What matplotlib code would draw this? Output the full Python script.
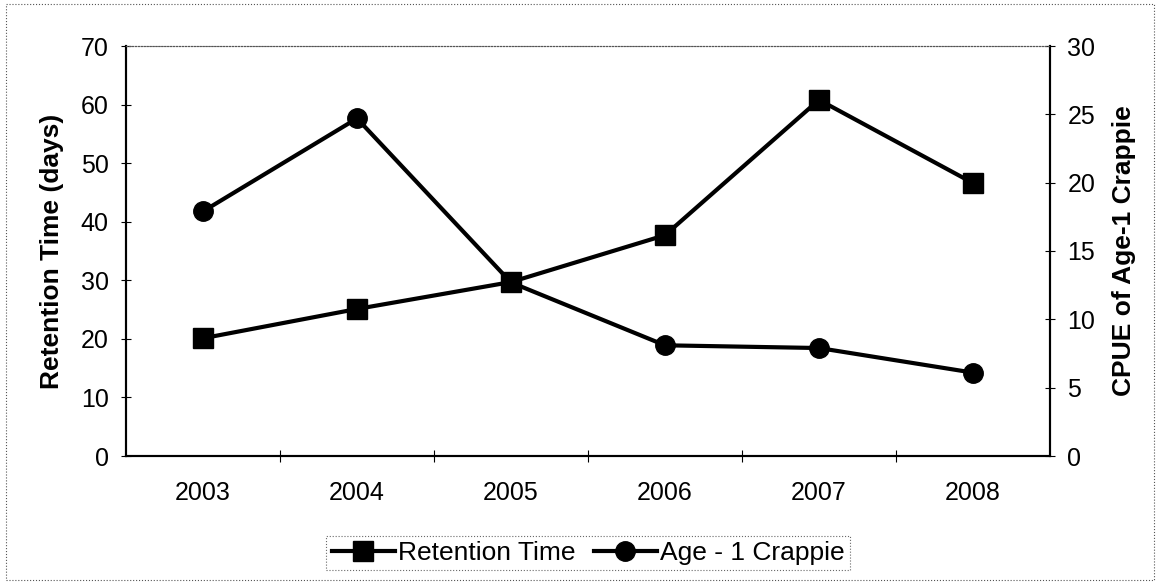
import matplotlib.pyplot as plt
from matplotlib.lines import Line2D
from matplotlib.patches import Rectangle

plt.rcParams['font.family'] = ['Liberation Sans', 'DejaVu Sans']

years = ['2003', '2004', '2005', '2006', '2007', '2008']
retention = [20.1, 25.1, 29.7, 37.7, 60.8, 46.6]
crappie = [17.9, 24.7, 12.7, 8.1, 7.9, 6.1]

fig = plt.figure(figsize=(11.6, 5.82), dpi=100)
ax = fig.add_axes([126 / 1160, 1 - 456 / 582, (1050 - 126) / 1160, (456 - 46) / 582])
ax2 = ax.twinx()

x = range(len(years))
ax.plot(x, retention, color='black', lw=3, marker='s', ms=14, zorder=3)
ax2.plot(x, crappie, color='black', lw=3, marker='o', ms=14, zorder=2)

ax.set_xlim(-0.5, 5.5)
ax.set_ylim(0, 70)
ax2.set_ylim(0, 30)
ax.set_yticks(range(0, 71, 10))
ax2.set_yticks(range(0, 31, 5))

# category ticks between groups, labels at centers
ax.set_xticks([i + 0.5 for i in range(5)])
ax.set_xticklabels([])
ax.set_xticks(list(x), minor=True)
ax.set_xticklabels(years, minor=True)
ax.tick_params(axis='x', which='minor', length=0, pad=18, labelsize=18)
ax.tick_params(axis='x', which='major', direction='inout', length=8, width=0.8)
ax.tick_params(axis='y', direction='inout', length=7, width=0.8, labelsize=18, pad=9)
ax2.tick_params(axis='y', direction='inout', length=7, width=0.8, labelsize=18, pad=9)

for a in (ax, ax2):
    a.spines['top'].set_linestyle(':')
    a.spines['top'].set_linewidth(0.8)
    a.spines['top'].set_color('#555555')
    a.spines['left'].set_linewidth(1.5)
    a.spines['right'].set_linewidth(1.5)
    a.spines['bottom'].set_linewidth(1.5)

ax.set_ylabel('Retention Time (days)', fontsize=19, fontweight='bold', labelpad=12)
ax2.set_ylabel('CPUE of Age-1 Crappie', fontsize=19, fontweight='bold', labelpad=12)

handles = [
    Line2D([], [], color='black', lw=3, marker='s', ms=14),
    Line2D([], [], color='black', lw=3, marker='o', ms=14),
]
leg = fig.legend(handles, ['Retention Time', 'Age - 1 Crappie'], loc='center',
                 bbox_to_anchor=(588 / 1160, 1 - 553 / 582), ncol=2, fontsize=19,
                 frameon=True, fancybox=False, handlelength=2.4, handletextpad=0.1,
                 columnspacing=0.7, borderpad=0.2, borderaxespad=0)
leg.get_frame().set_edgecolor('#444444')
leg.get_frame().set_linestyle(':')
leg.get_frame().set_linewidth(0.8)

# outer chart border
fig.patches.append(Rectangle((6 / 1160, 2 / 582), 1148 / 1160, 576 / 582,
                             transform=fig.transFigure, fill=False,
                             ls=':', lw=0.8, ec='#555555'))

fig.savefig('out.png', dpi=100)
